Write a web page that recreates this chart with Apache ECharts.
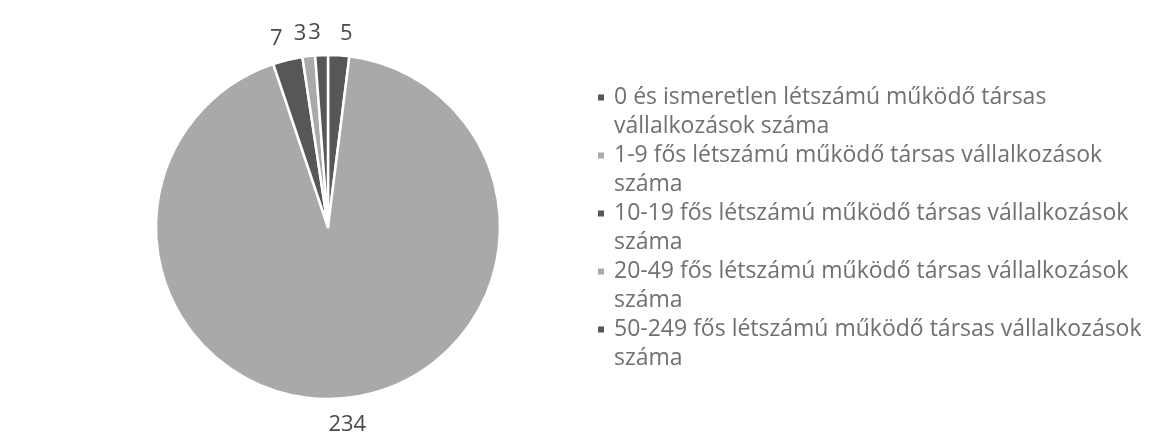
<!DOCTYPE html>
<html><head><meta charset="utf-8">
<script src="https://cdn.jsdelivr.net/npm/echarts@6/dist/echarts.min.js"></script>
<style>html,body{margin:0;padding:0;background:#fff}#c{width:1165px;height:438px}</style>
</head><body><div id="c"></div>
<script>
const categories = [
  "0 és ismeretlen létszámú működő társas vállalkozások száma",
  "1-9 fős létszámú működő társas vállalkozások száma",
  "10-19 fős létszámú működő társas vállalkozások száma",
  "20-49 fős létszámú működő társas vállalkozások száma",
  "50-249 fős létszámú működő társas vállalkozások száma"
];
const legendLines = [
  ["0 és ismeretlen létszámú működő társas", "vállalkozások száma"],
  ["1-9 fős létszámú működő társas vállalkozások", "száma"],
  ["10-19 fős létszámú működő társas vállalkozások", "száma"],
  ["20-49 fős létszámú működő társas vállalkozások", "száma"],
  ["50-249 fős létszámú működő társas vállalkozások", "száma"]
];
const values = [5, 234, 7, 3, 3];
const colors = ["#575757", "#a9a9a9", "#575757", "#a9a9a9", "#575757"];

const chart = echarts.init(document.getElementById('c'));
chart.setOption({
  animation: false,
  color: colors,
  legend: {
    orient: 'vertical',
    left: 596,
    top: 54,
    padding: 0,
    itemGap: -29,
    itemWidth: 8,
    itemHeight: 8,
    icon: 'rect',
    selectedMode: false,
    formatter: function (name) {
      const i = categories.indexOf(name);
      return '\n' + legendLines[i].join('\n');
    },
    textStyle: {
      fontFamily: 'Open Sans',
      fontSize: 23,
      color: '#707070',
      lineHeight: 29,
      padding: [0, 0, 0, 4]
    },
    data: categories
  },
  series: [{
    type: 'pie',
    center: [328, 227],
    radius: [0, 172],
    startAngle: 90,
    clockwise: true,
    avoidLabelOverlap: false,
    itemStyle: { borderColor: '#ffffff', borderWidth: 2.5 },
    label: {
      show: true,
      position: 'outside',
      formatter: '{c}',
      fontFamily: 'Open Sans',
      fontSize: 22,
      color: '#4a4a4a',
      distanceToLabelLine: 0
    },
    labelLine: { show: false, length: 22, length2: 0 },
    labelLayout: function (p) {
      return p.dataIndex === 1 ? { align: 'center', dy: 5 } : {};
    },
    emphasis: { disabled: true },
    data: categories.map((n, i) => ({ name: n, value: values[i] }))
  }]
});
</script></body></html>
